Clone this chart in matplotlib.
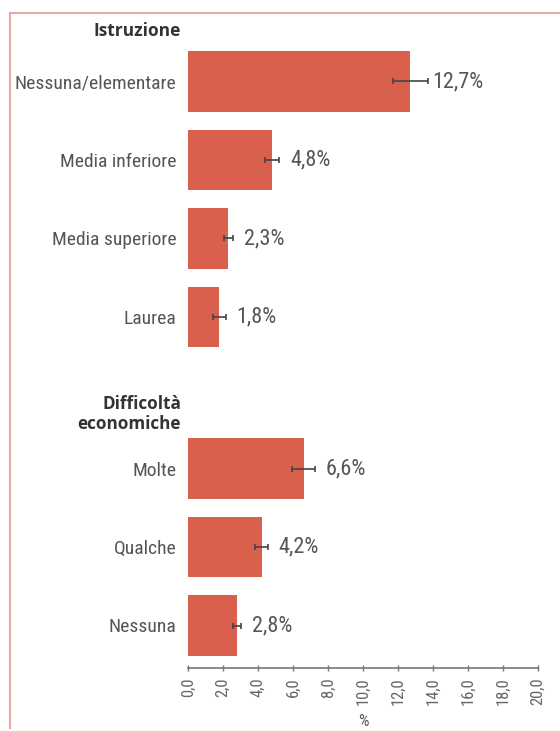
import matplotlib
matplotlib.use("Agg")
import matplotlib.pyplot as plt
from matplotlib.lines import Line2D
from matplotlib import font_manager as fm

# pick a condensed font if available
names = {f.name for f in fm.fontManager.ttflist}
cond_files = [f for f in fm.fontManager.ttflist if ("ondensed" in f.fname or "Narrow" in f.fname or f.stretch in ("condensed", "semi-condensed"))]
cond_family = None
cond_stretch = "normal"
for cand in ["Liberation Sans Narrow", "Roboto Condensed", "Open Sans Condensed", "Noto Sans Condensed", "DejaVu Sans Condensed"]:
    if cand in names:
        cond_family = cand
        break
if cond_family is None:
    for f in cond_files:
        if "Bold" not in f.fname and "Oblique" not in f.fname and "Italic" not in f.fname:
            cond_family = f.name
            cond_stretch = f.stretch
            break
if cond_family is None:
    cond_family = "DejaVu Sans"
    scale = 0.82
else:
    scale = 1.0

plt.rcParams['font.family'] = [cond_family, 'DejaVu Sans']
plt.rcParams['font.stretch'] = cond_stretch

# Data
groups = ["Istruzione", "Difficoltà\neconomiche"]
cats_istr = ["Nessuna/elementare", "Media inferiore", "Media superiore", "Laurea"]
vals_istr = [12.7, 4.8, 2.3, 1.8]
err_istr = [1.0, 0.4, 0.25, 0.35]
cats_diff = ["Molte", "Qualche", "Nessuna"]
vals_diff = [6.6, 4.2, 2.8]
err_diff = [0.65, 0.35, 0.25]
xticks = [0, 2, 4, 6, 8, 10, 12, 14, 16, 18, 20]
xticklabels = ["0,0", "2,0", "4,0", "6,0", "8,0", "10,0", "12,0", "14,0", "16,0", "18,0", "20,0"]

W, H = 560, 731
fig = plt.figure(figsize=(W / 100, H / 100), dpi=100)

ax_left, ax_right = 188, 538
ax_top, ax_bottom = 40, 668
ax = fig.add_axes([ax_left / W, 1 - ax_bottom / H, (ax_right - ax_left) / W, (ax_bottom - ax_top) / H])

bar_color = "#d9604c"
text_color = "#555555"
err_color = "#444444"

gap = 1.93
pos_istr = [i for i in range(len(cats_istr))]
pos_diff = [len(cats_istr) - 1 + gap + i for i in range(len(cats_diff))]

cats = cats_istr + cats_diff
vals = vals_istr + vals_diff
errs = err_istr + err_diff
pos = pos_istr + pos_diff

ax.barh(pos, vals, height=0.765, color=bar_color, edgecolor="none")
ax.errorbar(vals, pos, xerr=errs, fmt="none", ecolor=err_color, elinewidth=1.2,
            capsize=2.5, capthick=1.2)

val_fs = 16 * scale
cat_fs = 14 * scale
for i, (p, v, e) in enumerate(zip(pos, vals, errs)):
    off = 3 if v >= 10 else 8
    ax.annotate(f"{v:.1f}".replace(".", ",") + "%", xy=(v + e, p), xytext=(off, 0),
                textcoords="offset points", va="center", ha="left",
                fontsize=val_fs, color=text_color)

ax.set_xlim(0, 20)
px_per_unit = 78.5
ybot = pos[-1] + (668 - 625.5) / px_per_unit
ax.set_ylim(ybot, ybot - (668 - 40) / px_per_unit)

ax.set_yticks(pos)
ax.set_yticklabels(cats, fontsize=cat_fs, color=text_color)
ax.tick_params(axis="y", length=0, pad=8.5)

ax.set_xticks(xticks)
ax.set_xticklabels(xticklabels, rotation=90, fontsize=12 * scale, color="#666666")
ax.tick_params(axis="x", direction="inout", length=5, width=1, color="#777777", pad=4)

for s in ["top", "right", "left"]:
    ax.spines[s].set_visible(False)
ax.spines["bottom"].set_color("#777777")
ax.spines["bottom"].set_linewidth(1.2)

ax.set_xlabel("%", fontsize=12 * scale, color=text_color, va="center")
ax.xaxis.set_label_coords(0.5, -(721 - ax_bottom) / (ax_bottom - ax_top))

fig.text(181 / W, 1 - 31 / H, groups[0], ha="right", va="center", fontsize=12.5 * scale,
         fontweight="bold", color="#333333", family=['Open Sans', 'DejaVu Sans'])
fig.text(181 / W, 1 - 414 / H, groups[1], ha="right", va="center", fontsize=12.3 * scale,
         fontweight="bold", color="#333333", linespacing=1.2, family=['Open Sans', 'DejaVu Sans'])

frame_color = "#eaa8a4"
fig.add_artist(Line2D([10 / W, 1], [1 - 13 / H, 1 - 13 / H], color=frame_color, lw=1.5, transform=fig.transFigure))
fig.add_artist(Line2D([10 / W, 10 / W], [1 - 13 / H, 1 - 728 / H], color=frame_color, lw=1.5, transform=fig.transFigure))

fig.savefig("out.png", dpi=100)
